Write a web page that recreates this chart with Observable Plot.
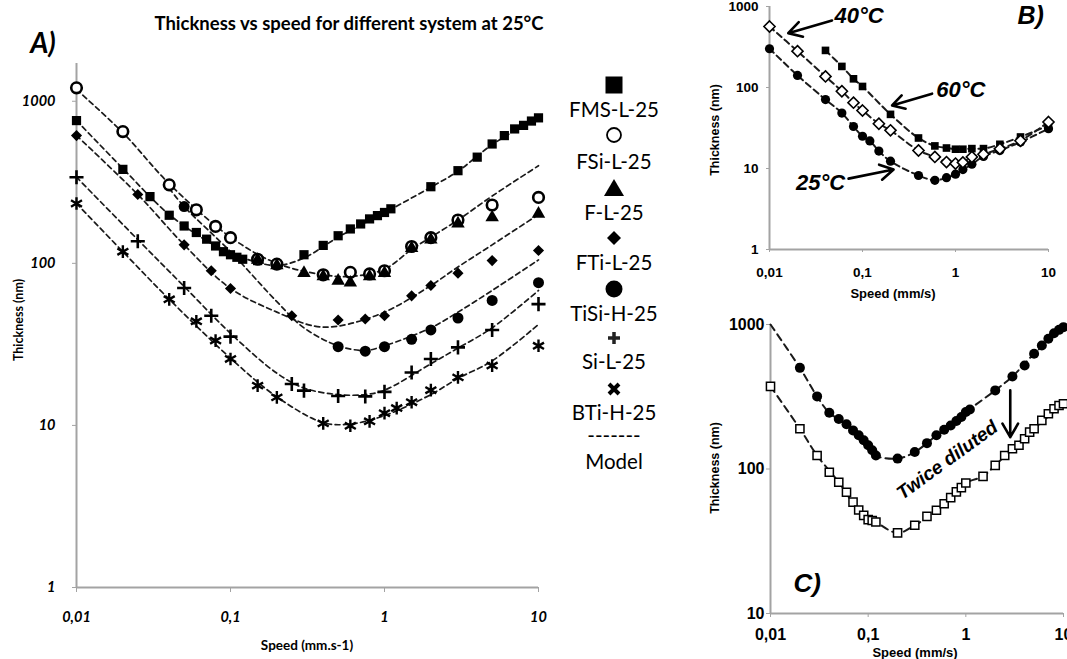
<!DOCTYPE html>
<html><head><meta charset="utf-8">
<script src="https://cdn.jsdelivr.net/npm/d3@7"></script>
<script src="https://cdn.jsdelivr.net/npm/@observablehq/plot@0.6"></script>
<style>
body{margin:0;background:#fff;}
#fig{position:relative;width:1067px;height:659px;overflow:hidden;background:#fff;}
.t{position:absolute;white-space:nowrap;line-height:1;}
svg{overflow:visible;}
</style></head><body><div id="fig"></div><script>
// ---------- Panel A data ----------
const seriesA = ["FMS-L-25","FSi-L-25","F-L-25","FTi-L-25","TiSi-H-25","Si-L-25","BTi-H-25"];
const speedFMS = [0.01,0.02,0.03,0.04,0.05,0.06,0.07,0.08,0.09,0.1,0.11,0.12,0.15,0.2,0.3,0.4,0.5,0.6,0.7,0.8,0.9,1,1.1,2,3,4,5,6,7,8,9,10];
const thickFMS = [760,380,258,198,170,155,141,128,118,113,109,106,104,98,113,129,148,163,175,188,197,206,217,297,373,452,545,614,675,710,755,790];
const speedFSi = [0.01,0.02,0.04,0.06,0.08,0.1,0.15,0.2,0.4,0.6,0.8,1,1.5,2,3,5,10];
const thickFSi = [1210,650,305,214,169,144,106,99,85,88,86,90,127,144,185,229,255];
const speedFL = [0.15,0.2,0.3,0.4,0.5,0.6,0.8,1,1.5,2,3,5,10];
const thickFL = [105,97,87,83,78,76,83,87,124,140,176,192,202];
const speedFTi = [0.01,0.025,0.05,0.075,0.1,0.25,0.5,0.75,1,1.5,2,3,5,10];
const thickFTi = [614,266,130,90,70,47.5,44.7,45.4,47.5,63,73,87,104,120];
const speedTiSi = [0.05,0.5,0.75,1,1.5,2,3,5,10];
const thickTiSi = [224,30.6,28.7,30.6,34,38.8,46,59,76];
const speedSi = [0.01,0.025,0.05,0.075,0.1,0.25,0.3,0.5,0.75,1,1.5,2,3,5,10];
const thickSi = [340,137,70.5,47.5,35.3,18,16.4,15.2,15.1,16.1,21.2,25.7,30.3,38.8,56];
const speedBTi = [0.01,0.02,0.04,0.06,0.08,0.1,0.15,0.2,0.4,0.6,0.8,1,1.2,1.5,2,3,5,10];
const thickBTi = [234,118,60,43.9,33.4,25.7,17.6,14.9,10.3,9.95,10.6,11.9,12.8,13.9,16.5,19.8,23.4,31];

// model curves
const mSpeedFMS = [0.01,0.02,0.04,0.08,0.12,0.2,0.3,0.5,1,2,3,5,10];
const mThickFMS = [760,385,200,128,108,97,108,145,205,295,370,540,800];
const mSpeedFSi = [0.01,0.02,0.04,0.1,0.2,0.4,0.6,1,1.5,2,3,5,10];
const mThickFSi = [1180,640,310,145,100,85,83,92,122,145,185,260,400];
const mSpeedFTi = [0.01,0.025,0.05,0.1,0.2,0.35,0.5,1,2,3,5,10];
const mThickFTi = [614,266,130,70,50,41,41,50,73,95,130,200];
const mSpeedTiSi = [0.04,0.05,0.1,0.2,0.3,0.5,0.75,1,2,3,5,10];
const mThickTiSi = [290,224,118,58,40,31,29,31,40,50,68,105];
const mSpeedSi = [0.01,0.025,0.05,0.1,0.2,0.3,0.5,0.75,1,2,3,5,10];
const mThickSi = [340,140,72,37,21,17,15.5,15.5,16.5,24,30,40,68];
const mSpeedBTi = [0.01,0.02,0.04,0.1,0.2,0.4,0.6,1,2,3,5,10];
const mThickBTi = [234,118,60,26,15,10.4,10.2,11.5,15.5,19.5,25,42];

// ---------- Panel B data ----------
const speedB25 = [0.01,0.02,0.04,0.06,0.08,0.1,0.12,0.15,0.2,0.4,0.6,0.8,1,1.2,1.5,2,3,5,10];
const thickB25 = [301,141,71,48.4,33,25,21.9,16.4,12.3,8.2,7.15,7.7,8.5,9.7,11.3,14.1,16.7,21.2,31];
const speedB40 = [0.01,0.02,0.04,0.06,0.08,0.1,0.15,0.2,0.4,0.6,0.8,1,1.2,1.5,2,3,5,10];
const thickB40 = [566,281,137,90,65,52,35.7,29.6,16.7,13.9,12,11.5,11.9,13.9,15,17.5,22,37.5];
const speedB60 = [0.04,0.06,0.08,0.1,0.2,0.4,0.6,0.8,1,1.2,1.5,2,3,5,10];
const thickB60 = [287,182,128,103,46.6,23.8,19,17.9,17.3,17.3,17.6,17.6,19.9,24.5,34];

// ---------- Panel C data ----------
const speedC1 = [0.02,0.03,0.04,0.05,0.06,0.07,0.08,0.09,0.1,0.11,0.12,0.2,0.3,0.4,0.5,0.6,0.7,0.8,0.9,1,1.1,2,3,4,5,6,7,8,9,10];
const thickC1 = [501,318,245,222,204,185,171,158,146,135,124,118,131,151,171,187,200,215,229,248,258,350,437,521,627,716,796,871,918,959];
const speedC2 = [0.01,0.02,0.03,0.04,0.05,0.06,0.07,0.08,0.09,0.1,0.11,0.12,0.2,0.3,0.4,0.5,0.6,0.7,0.8,0.9,1,1.5,2,2.5,3,3.5,4,4.5,5,6,7,8,9,10];
const thickC2 = [373,190,124,95,81,69,59,52,47.8,44.6,44,43,36.1,40.8,47,51.8,57.5,63.4,69.4,74.3,80,89,106,124,138,146,162,180,190,217,241,261,275,283];
const mSpeedC1 = [0.01,0.02,0.03,0.04,0.06,0.1,0.12,0.2,0.3,0.5,1,2,3,5,10];
const mThickC1 = [1000,501,318,245,204,146,124,118,131,171,248,350,437,627,959];
const mSpeedC2 = [0.01,0.02,0.03,0.05,0.08,0.12,0.2,0.3,0.5,1,1.5,2,3,5,10];
const mThickC2 = [373,190,124,81,52,43,36.1,40.8,51.8,80,89,106,138,190,283];

// ticks
const ticksX = [0.01,0.1,1,10];
const ticksYA = [1,10,100,1000];
const ticksYB = [1,10,100,1000];
const ticksYC = [10,100,1000];
const fmt = d => String(d).replace(".", ",");
const rows = (s, xs, ys) => xs.map((v,i) => ({series:s, speed:v, thickness:ys[i]}));

const fig = document.getElementById("fig");
function place(el, left, top){ el.style.position="absolute"; el.style.left=left+"px"; el.style.top=top+"px"; fig.appendChild(el); }
function label(txt, x, y, css, rot){
  const d=document.createElement("div"); d.className="t"; d.textContent=txt;
  d.style.cssText += css; d.style.left=x+"px"; d.style.top=y+"px";
  d.style.transform="translate(-50%,-50%)"+(rot?" rotate("+rot+"deg)":"");
  fig.appendChild(d);
}
const AX="#a3a3a3";
const dash = {stroke:"#1a1a1a", strokeWidth:1.7, strokeDasharray:"5,3.6", curve:"catmull-rom"};

// ---------- Panel A ----------
const styleA = {
  "FMS-L-25": {symbol:"square", fill:"black", r:5.2},
  "FSi-L-25": {symbol:"circle", fill:"white", stroke:"black", strokeWidth:2.6, r:5.3},
  "F-L-25": {symbol:"triangle", fill:"black", r:5},
  "FTi-L-25": {symbol:"diamond2", fill:"black", r:5},
  "TiSi-H-25": {symbol:"circle", fill:"black", r:5.5},
  "Si-L-25": {symbol:"plus", stroke:"black", strokeWidth:2.6, r:4.6},
  "BTi-H-25": {symbol:"asterisk", stroke:"black", strokeWidth:2.4, r:6}
};
const dataA = {
  "FMS-L-25": rows("FMS-L-25", speedFMS, thickFMS),
  "FSi-L-25": rows("FSi-L-25", speedFSi, thickFSi),
  "F-L-25": rows("F-L-25", speedFL, thickFL),
  "FTi-L-25": rows("FTi-L-25", speedFTi, thickFTi),
  "TiSi-H-25": rows("TiSi-H-25", speedTiSi, thickTiSi),
  "Si-L-25": rows("Si-L-25", speedSi, thickSi),
  "BTi-H-25": rows("BTi-H-25", speedBTi, thickBTi)
};
const modelsA = [
  rows("FMS-L-25", mSpeedFMS, mThickFMS), rows("FSi-L-25", mSpeedFSi, mThickFSi),
  rows("FTi-L-25", mSpeedFTi, mThickFTi), rows("TiSi-H-25", mSpeedTiSi, mThickTiSi),
  rows("Si-L-25", mSpeedSi, mThickSi), rows("BTi-H-25", mSpeedBTi, mThickBTi)
];
const plotA = Plot.plot({
  width:560, height:659, marginLeft:76, marginRight:22, marginTop:63, marginBottom:72,
  style:{fontFamily:"Lato", background:"transparent", overflow:"visible"},
  x:{type:"log", domain:[0.01,10]},
  y:{type:"log", domain:[1,1710]},
  marks:[
    Plot.axisY(ticksYA, {tickSize:4, tickPadding:17, tickFormat:d=>String(d), fontSize:14.5, fontWeight:"bold", fontStyle:"italic", stroke:AX, fill:"black", label:null}),
    Plot.axisX(ticksX, {tickSize:5, tickPadding:19, tickFormat:fmt, fontSize:14.5, fontWeight:"bold", fontStyle:"italic", stroke:AX, fill:"black", label:null}),
    Plot.ruleX([0.01], {stroke:AX, strokeWidth:2}),
    Plot.ruleY([1], {stroke:AX, strokeWidth:2}),
    ...modelsA.map(m => Plot.line(m, {x:"speed", y:"thickness", ...dash})),
    ...seriesA.map(s => Plot.dot(dataA[s], {x:"speed", y:"thickness", ...styleA[s]}))
  ]
});
place(plotA, 0, 0);
label("Thickness vs speed for different system at 25°C", 349, 23, "font:bold 18.5px Lato;");
label("A)", 43, 42, "font:italic bold 28px Lato;");
label("Thickness (nm)", 18, 320, "font:bold 12.5px Lato;", -90);
label("Speed (mm.s-1)", 307, 645, "font:bold 13.5px Lato;");

// legend A
const legY = [85,110,135,162,188,213,238,263,289,314,338,362,389,413,439,462];
const legSvg = d3.create("svg").attr("width",120).attr("height",420).attr("viewBox","0 0 120 420");
const cx=60, oy=-60;
const g = legSvg.append("g").attr("font-family","Lato").attr("font-size",20.5).attr("text-anchor","middle");
const sy = i => legY[i*2]+oy, ty = i => legY[i*2+1]+oy;
g.append("rect").attr("x",cx-8.5).attr("y",sy(0)-8.5).attr("width",17).attr("height",17).attr("fill","black");
g.append("circle").attr("cx",cx).attr("cy",sy(1)).attr("r",7).attr("fill","white").attr("stroke","black").attr("stroke-width",1.8);
g.append("path").attr("d",`M${cx},${sy(2)-9}L${cx+10},${sy(2)+8}L${cx-10},${sy(2)+8}Z`).attr("fill","black");
g.append("path").attr("d",`M${cx},${sy(3)-7}L${cx+7},${sy(3)}L${cx},${sy(3)+7}L${cx-7},${sy(3)}Z`).attr("fill","black");
g.append("circle").attr("cx",cx).attr("cy",sy(4)).attr("r",8.5).attr("fill","black");
g.append("path").attr("d",`M${cx-6},${sy(5)}H${cx+6}M${cx},${sy(5)-6}V${sy(5)+6}`).attr("stroke","#222").attr("stroke-width",3.5);
g.append("path").attr("d",`M${cx-5},${sy(6)-5}L${cx+5},${sy(6)+5}M${cx-5},${sy(6)+5}L${cx+5},${sy(6)-5}`).attr("stroke","black").attr("stroke-width",4);
seriesA.forEach((s,i)=>g.append("text").attr("x",cx).attr("y",ty(i)).attr("dy","0.35em").text(s));
g.append("text").attr("x",cx).attr("y",legY[14]+oy).attr("dy","0.2em").text("-------");
g.append("text").attr("x",cx).attr("y",legY[15]+oy).attr("dy","0.35em").text("Model");
place(legSvg.node(), 554, 60);

// ---------- Panel B ----------
const bStyle = {
  "25": {symbol:"circle", fill:"black", r:4.6},
  "40": {symbol:"diamond2", fill:"white", stroke:"black", strokeWidth:1.6, r:5},
  "60": {symbol:"square", fill:"black", r:4.3}
};
const dB25 = rows("25", speedB25, thickB25), dB40 = rows("40", speedB40, thickB40), dB60 = rows("60", speedB60, thickB60);
const arrowsB = [
  {x1:0.047, y1:672, x2:0.0159, y2:469},
  {x1:0.56, y1:84, x2:0.208, y2:60},
  {x1:0.0708, y1:7.5, x2:0.216, y2:9.7}
];
const textBstart = [
  {t:"40°C", x:0.05, y:774},
  {t:"60°C", x:0.62, y:92}
];
const textBend = [{t:"25°C", x:0.065, y:6.6}];
const fB = "Liberation Sans";
const annoFont = {fontSize:22, fontWeight:"bold", fontStyle:"italic", fill:"black"};
const plotB = Plot.plot({
  width:387, height:300, marginLeft:89, marginRight:19, marginTop:6, marginBottom:51,
  style:{fontFamily:fB, background:"transparent", overflow:"visible"},
  x:{type:"log", domain:[0.01,10]},
  y:{type:"log", domain:[1,1000]},
  marks:[
    Plot.axisY(ticksYB, {tickSize:3, tickPadding:8, tickFormat:d=>String(d), fontSize:13.5, fontWeight:"bold", stroke:AX, fill:"black", label:null}),
    Plot.axisX(ticksX, {tickSize:3, tickPadding:15, tickFormat:fmt, fontSize:13.5, fontWeight:"bold", stroke:AX, fill:"black", label:null}),
    Plot.ruleX([0.01], {stroke:AX, strokeWidth:2}),
    Plot.ruleY([1], {stroke:AX, strokeWidth:2}),
    Plot.line(dB60, {x:"speed", y:"thickness", ...dash, strokeWidth:2, strokeDasharray:"6,4"}),
    Plot.line(dB40, {x:"speed", y:"thickness", ...dash, strokeWidth:2, strokeDasharray:"6,4"}),
    Plot.line(dB25, {x:"speed", y:"thickness", ...dash, strokeWidth:2, strokeDasharray:"6,4"}),
    Plot.dot(dB25, {x:"speed", y:"thickness", ...bStyle["25"]}),
    Plot.dot(dB60, {x:"speed", y:"thickness", ...bStyle["60"]}),
    Plot.dot(dB40, {x:"speed", y:"thickness", ...bStyle["40"]}),
    Plot.arrow(arrowsB, {x1:"x1", y1:"y1", x2:"x2", y2:"y2", stroke:"black", strokeWidth:2.6, headLength:11}),
    Plot.text(textBstart, {x:"x", y:"y", text:"t", textAnchor:"start", ...annoFont}),
    Plot.text(textBend, {x:"x", y:"y", text:"t", textAnchor:"end", ...annoFont}),
    Plot.text(["B)"], {x:4.64, y:774, textAnchor:"start", fontSize:25, fontWeight:"bold", fontStyle:"italic", fill:"black"})
  ]
});
place(plotB, 680, 0);
label("Thickness (nm)", 715, 130, "font:bold 12.5px 'Liberation Sans';", -90);
label("Speed (mm/s)", 893, 293, "font:bold 13px 'Liberation Sans';");

// ---------- Panel C ----------
const dC1 = rows("orig", speedC1, thickC1), dC2 = rows("diluted", speedC2, thickC2);
const mC1 = rows("orig", mSpeedC1, mThickC1), mC2 = rows("diluted", mSpeedC2, mThickC2);
const arrowsC = [{x1:2.85, y1:350, x2:2.85, y2:166}];
const plotC = Plot.plot({
  width:387, height:359, marginLeft:90, marginRight:4, marginTop:24, marginBottom:46,
  style:{fontFamily:fB, background:"transparent", overflow:"visible"},
  x:{type:"log", domain:[0.01,10]},
  y:{type:"log", domain:[10,1000]},
  marks:[
    Plot.axisY(ticksYC, {tickSize:4, tickPadding:2, tickFormat:d=>String(d), fontSize:16, fontWeight:"bold", stroke:AX, fill:"black", label:null}),
    Plot.axisX(ticksX, {tickSize:4, tickPadding:11, tickFormat:fmt, fontSize:16, fontWeight:"bold", stroke:AX, fill:"black", label:null}),
    Plot.ruleX([0.01], {stroke:AX, strokeWidth:2}),
    Plot.ruleY([10], {stroke:AX, strokeWidth:2}),
    Plot.line(mC1, {x:"speed", y:"thickness", ...dash, strokeWidth:2, strokeDasharray:"7,5"}),
    Plot.line(mC2, {x:"speed", y:"thickness", ...dash, strokeWidth:2, strokeDasharray:"7,5"}),
    Plot.dot(dC1, {x:"speed", y:"thickness", symbol:"circle", fill:"black", r:5}),
    Plot.dot(dC2, {x:"speed", y:"thickness", symbol:"square", fill:"white", stroke:"black", strokeWidth:1.5, r:4.6}),
    Plot.arrow(arrowsC, {x1:"x1", y1:"y1", x2:"x2", y2:"y2", stroke:"black", strokeWidth:2.6, headLength:11}),
    Plot.text(["Twice diluted"], {x:0.645, y:115, rotate:-36, fontSize:19, fontWeight:"bold", fontStyle:"italic", fill:"black"}),
    Plot.text(["C)"], {x:0.0172, y:16.2, textAnchor:"start", fontSize:26, fontWeight:"bold", fontStyle:"italic", fill:"black"})
  ]
});
place(plotC, 680, 300);
label("Thickness (nm)", 715, 468, "font:bold 12.5px 'Liberation Sans';", -90);
label("Speed (mm/s)", 915, 652, "font:bold 13px 'Liberation Sans';");
</script></body></html>
